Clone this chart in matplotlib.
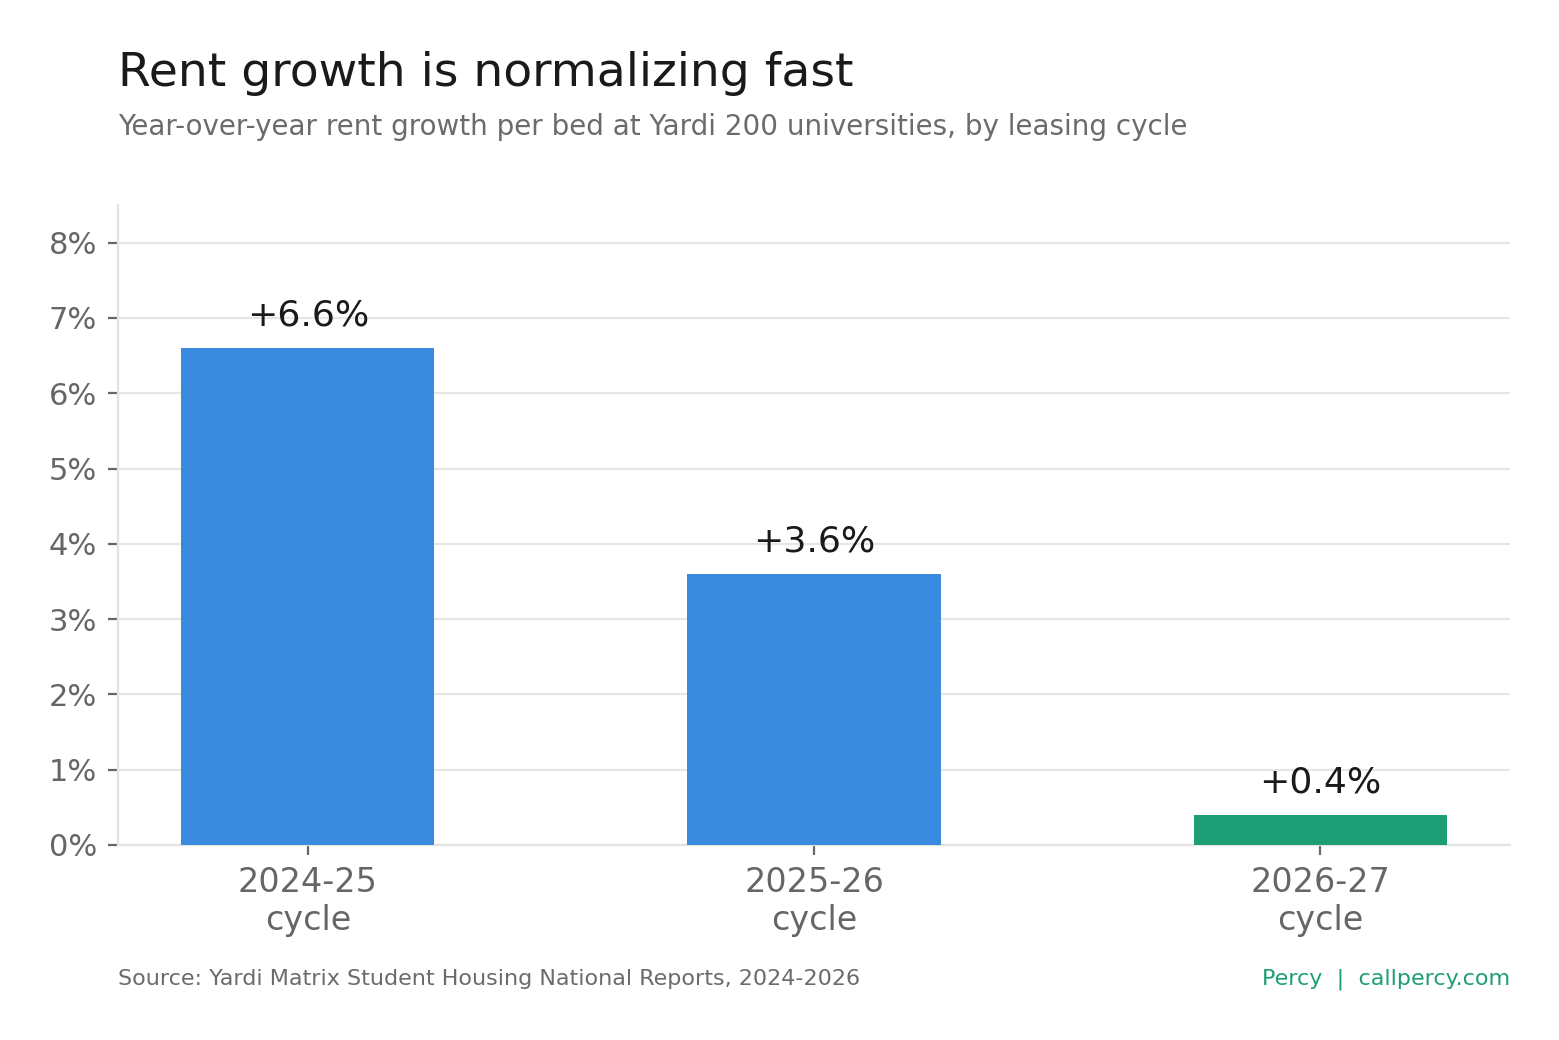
import matplotlib
matplotlib.use("Agg")
import matplotlib.pyplot as plt
from matplotlib.ticker import FuncFormatter

categories = ["2024-25\ncycle", "2025-26\ncycle", "2026-27\ncycle"]
values = [6.6, 3.6, 0.4]
labels = ["+6.6%", "+3.6%", "+0.4%"]
colors = ["#3a8bdf", "#3a8bdf", "#1e9e75"]
yticks = [0, 1, 2, 3, 4, 5, 6, 7, 8]

plt.rcParams['font.family'] = ['DejaVu Sans']
fig = plt.figure(figsize=(7.795, 5.2), dpi=200)
ax = fig.add_axes([118/1559, 1-845/1040, (1510-118)/1559, (845-205)/1040])

x = list(range(len(categories)))
ax.bar(x, values, width=0.5, color=colors, zorder=3)
for xi, v, lab in zip(x, values, labels):
    ax.annotate(lab, (xi, v), xytext=(0, 8), textcoords="offset points",
                ha="center", va="baseline", fontsize=13, color="#1a1a1a")

ax.set_xlim(-0.375, 2.375)
ax.set_ylim(0, 8.5)
ax.set_yticks(yticks)
ax.yaxis.set_major_formatter(FuncFormatter(lambda v, p: f"{v:.0f}%"))
ax.set_xticks(x)
ax.set_xticklabels(categories, fontsize=12, color="#666666", linespacing=1.2)
ax.tick_params(axis="y", labelsize=11, labelcolor="#666666", color="#666666",
               length=3.5, width=0.8, pad=4)
ax.tick_params(axis="x", color="#666666", length=3.5, width=0.8, pad=4)
ax.grid(axis="y", color="#e6e6e3", linewidth=0.8, zorder=0)
ax.set_axisbelow(True)
for s in ["top", "right"]:
    ax.spines[s].set_visible(False)
for s in ["left", "bottom"]:
    ax.spines[s].set_color("#e3e3df")
    ax.spines[s].set_linewidth(0.8)

fig.text(118/1559, 1-86/1040, "Rent growth is normalizing fast", fontsize=17,
         color="#1a1a1a", ha="left", va="baseline")
fig.text(118/1559, 1-135/1040,
         "Year-over-year rent growth per bed at Yardi 200 universities, by leasing cycle",
         fontsize=10, color="#6b6b6b", ha="left", va="baseline")
fig.text(118/1559, 1-985/1040,
         "Source: Yardi Matrix Student Housing National Reports, 2024-2026",
         fontsize=8, color="#6b6b6b", ha="left", va="baseline")
fig.text(1510/1559, 1-985/1040, "Percy  |  callpercy.com",
         fontsize=8, color="#1e9e75", ha="right", va="baseline")

fig.savefig("out.png", dpi=200, facecolor="white")
